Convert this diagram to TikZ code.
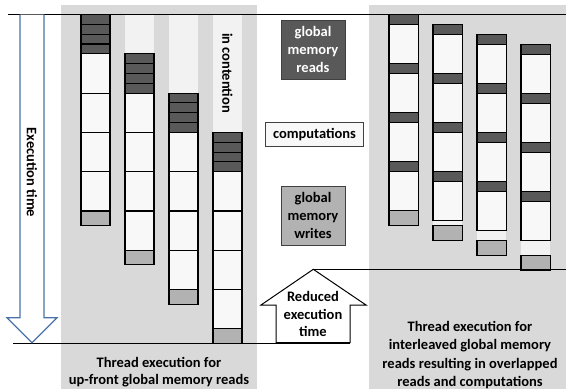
\documentclass[tikz,border=0pt]{standalone}
\usepackage{fontspec}
\setmainfont{Carlito}
\definecolor{panelgray}{HTML}{D9D9D9}
\definecolor{stripegray}{HTML}{F2F2F2}
\definecolor{readgray}{HTML}{595959}
\definecolor{writegray}{HTML}{B2B2B2}
\definecolor{compwhite}{HTML}{F8F8F8}
\definecolor{arrowblue}{HTML}{4A72A8}
\begin{document}
\begin{tikzpicture}[x=1pt,y=-1pt,
  panel/.style={fill=panelgray,draw=none},
  stripe/.style={fill=stripegray,draw=none},
  rd/.style={fill=readgray,draw=black,line width=1.1pt},
  cp/.style={fill=compwhite,draw=black,line width=1.1pt},
  wr/.style={fill=writegray,draw=black,line width=1.1pt},
  lbl/.style={font=\fontsize{14.5}{17.5}\selectfont\bfseries,align=center,inner sep=0pt},
  legbox/.style={draw=black!75,line width=0.9pt,inner sep=0pt,align=center,
    font=\fontsize{14.5}{17.7}\selectfont\bfseries},
  timeline/.style={draw=black,line width=1pt},
  hollow/.style={draw=arrowblue,line width=1.2pt,fill=white}]
\useasboundingbox (0,0) rectangle (566,389);
% panels
\fill[panel] (61,5) rectangle (257,389);
\fill[panel] (369,5) rectangle (566,389);
% left panel: up-front reads
\foreach \k in {1,2,3}{
  \pgfmathsetmacro\xa{81+44*\k}
  \pgfmathsetmacro\xb{\xa+29}
  \pgfmathsetmacro\ty{14.5+39.3*\k}
  \fill[stripe] (\xa,14.5) rectangle (\xb,\ty);
}
\foreach \k in {0,...,3}{
  \pgfmathsetmacro\xa{81+44*\k}
  \pgfmathsetmacro\xb{\xa+29}
  \pgfmathsetmacro\ty{14.5+39.3*\k}
  \foreach \i in {0,...,3}{
    \pgfmathsetmacro\ya{\ty+9.825*\i}
    \draw[rd] (\xa,\ya) rectangle (\xb,\ya+9.825);
    \pgfmathsetmacro\yc{\ty+39.3+39.3*\i}
    \draw[cp] (\xa,\yc) rectangle (\xb,\yc+39.3);
  }
  \pgfmathsetmacro\yw{\ty+196.5}
  \draw[wr] (\xa,\yw) rectangle (\xb,\yw+14.6);
}
% right panel: interleaved reads
\foreach \k in {1,2,3}{
  \pgfmathsetmacro\xa{389+44*\k}
  \pgfmathsetmacro\xb{\xa+29.3}
  \pgfmathsetmacro\ce{14.5+10*\k+195.6}
  \pgfmathsetmacro\ws{210.1+15*\k}
  \fill[stripe] (\xa,\ce) rectangle (\xb,\ws);
}
\foreach \k in {0,...,3}{
  \pgfmathsetmacro\xa{389+44*\k}
  \pgfmathsetmacro\xb{\xa+29.3}
  \pgfmathsetmacro\ty{14.5+10*\k}
  \foreach \i in {0,...,3}{
    \pgfmathsetmacro\ya{\ty+48.9*\i}
    \draw[cp] (\xa,\ya+10) rectangle (\xb,\ya+48.9);
    \draw[rd] (\xa,\ya) rectangle (\xb,\ya+10);
  }
  \pgfmathsetmacro\ws{210.1+15*\k}
  \draw[wr] (\xa,\ws) rectangle (\xb,\ws+15);
}
% reference lines
\coordinate (topL) at (8,14.5);
\coordinate (topR) at (566,14.5);
\coordinate (botL) at (13,343);
\coordinate (botR) at (350,343);
\coordinate (newR) at (566,269.3);
\draw[timeline] (topL) -- (topR);
\draw[timeline] (botL) -- (botR);
% execution time arrow
\draw[hollow] (20,14.5) -- (20,317.7) -- (7,317.7) -- (32,342.7) -- (57,317.7) -- (44,317.7) -- (44,14.5);
\node[lbl,rotate=-90] (exec) at (32,172.5) {Execution time};
\node[lbl,rotate=-90] (cont) at (227.5,73) {in contention};
% reduced execution time arrow
\draw[draw=black,line width=1pt,fill=white,line join=miter]
  (313.3,269.3) -- (366,305) -- (350,305) -- (350,342.5) -- (276,342.5) -- (276,305) -- (261,305) -- cycle;
\coordinate (tip) at (313.3,269.3);
\draw[timeline] (tip) -- (newR);
\node[lbl] (reduced) at (313,314) {Reduced\\execution\\time};
% legend
\node[legbox,fill=readgray,text=white,minimum width=64pt,minimum height=59pt] (lread) at (313,49.5) {global\\memory\\reads};
\node[legbox,fill=compwhite,minimum width=97.6pt,minimum height=24pt] (lcomp) at (314.5,134.7) {computations};
\node[legbox,fill=writegray,minimum width=64pt,minimum height=59pt] (lwrite) at (313,215.5) {global\\memory\\writes};
% captions
\node[lbl] (capL) at (159,372) {Thread execution for\\up-front global memory reads};
\node[lbl,font=\fontsize{14.5}{18.5}\selectfont\bfseries] (capR) at (470,355) {Thread execution for\\interleaved global memory\\reads resulting in overlapped\\reads and computations};
\end{tikzpicture}
\end{document}
